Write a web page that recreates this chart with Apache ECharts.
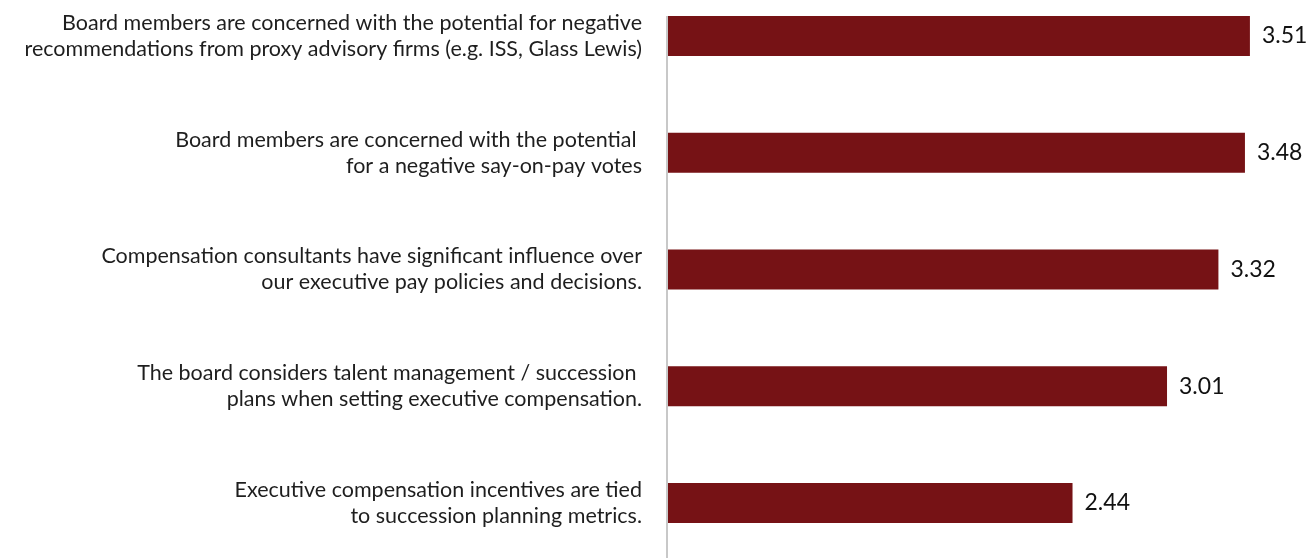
<!DOCTYPE html>
<html>
<head>
<meta charset="utf-8">
<script src="https://cdn.jsdelivr.net/npm/echarts@6/dist/echarts.min.js"></script>
<style>
  html, body { margin: 0; padding: 0; background: #fff; }
  #chart { width: 1312px; height: 558px; }
</style>
</head>
<body>
<div id="chart"></div>
<script>
var categories = [
    'Board members are concerned with the potential for negative\nrecommendations from proxy advisory firms (e.g. ISS, Glass Lewis)',
    'Board members are concerned with the potential \nfor a negative say-on-pay votes',
    'Compensation consultants have significant influence over\nour executive pay policies and decisions.',
    'The board considers talent management / succession \nplans when setting executive compensation.',
    'Executive compensation incentives are tied\nto succession planning metrics.'
];
var scores = [3.51, 3.48, 3.32, 3.01, 2.44];

var myChart = echarts.init(document.getElementById('chart'));
option = {
    animation: false,
    grid: {
        left: 668,
        right: 14,
        top: 36,
        bottom: 55
    },
    xAxis: {
        type: 'value',
        min: 0,
        max: 3.8,
        show: false
    },
    yAxis: {
        type: 'category',
        inverse: true,
        boundaryGap: false,
        data: categories,
        axisLine: { show: false },
        axisTick: { show: false },
        axisLabel: {
            margin: 26,
            fontFamily: 'Lato',
            fontSize: 21.5,
            lineHeight: 26,
            color: '#1e1e1e',
            align: 'right'
        }
    },
    series: [
        {
            name: 'score',
            type: 'bar',
            data: scores,
            barWidth: 40,
            itemStyle: { color: '#761215' },
            label: {
                show: true,
                position: 'right',
                distance: 12,
                fontFamily: 'Lato',
                fontSize: 23,
                color: '#111',
                formatter: function (p) { return p.value.toFixed(2); }
            }
        }
    ]
};
myChart.setOption(option);

// vertical baseline: from top of first bar down to the bottom of the page
var x0 = myChart.convertToPixel({ xAxisIndex: 0 }, 0);
var y0 = myChart.convertToPixel({ yAxisIndex: 0 }, categories[0]) - 20;
myChart.setOption({
    graphic: [{
        type: 'line',
        shape: { x1: x0 - 1, y1: y0, x2: x0 - 1, y2: 558 },
        style: { stroke: '#c8c8c8', lineWidth: 2 },
        z: 10
    }]
});
</script>
</body>
</html>
